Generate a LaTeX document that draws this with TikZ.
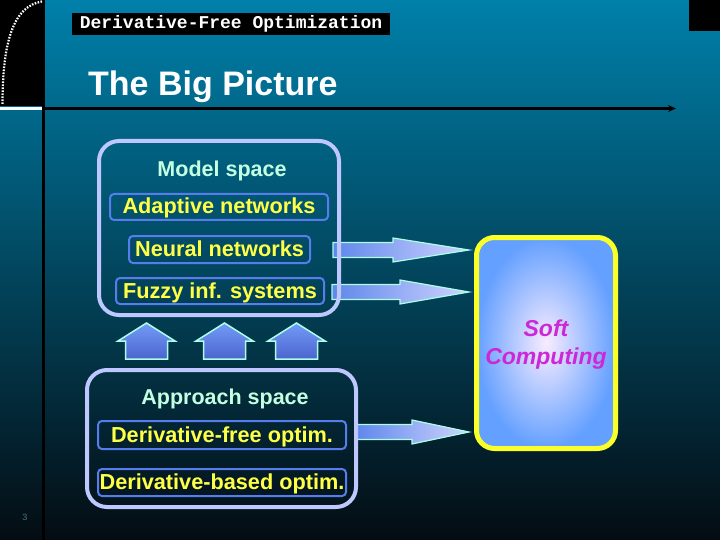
\documentclass[tikz,border=0pt]{standalone}
\usepackage{fontspec}
\setmainfont{Liberation Sans}
\newfontfamily\monof{Liberation Mono}
\usetikzlibrary{calc,arrows.meta}
\definecolor{bgtop}{RGB}{0,128,170}
\definecolor{bgmid}{RGB}{0,72,97}
\definecolor{bgbot}{RGB}{4,12,18}
\definecolor{lav}{RGB}{190,200,255}
\definecolor{innerblue}{RGB}{85,125,235}
\definecolor{ylw}{RGB}{255,255,70}
\definecolor{mint}{RGB}{195,255,225}
\definecolor{aqua}{RGB}{170,255,232}
\definecolor{arrL}{RGB}{95,135,235}
\definecolor{arrR}{RGB}{208,212,255}
\definecolor{houseT}{RGB}{115,155,248}
\definecolor{houseB}{RGB}{75,100,205}
\definecolor{softin}{RGB}{248,236,255}
\definecolor{softout}{RGB}{100,160,255}
\definecolor{softy}{RGB}{250,255,40}
\definecolor{magen}{RGB}{205,40,215}
\definecolor{pagenum}{RGB}{70,115,135}
\pgfdeclarelayer{back}
\pgfdeclarelayer{arr}
\pgfsetlayers{back,arr,main}
\newcommand\fatarrow[3]{%
  \path[fatarr] let \p1=(#1), \p2=(#2) in
    (\x1,\y1+7.5pt) -- (\x2-#3pt,\y1+7.5pt) -- (\x2-#3pt,\y1+12pt) -- (\x2,\y1)
    -- (\x2-#3pt,\y1-12pt) -- (\x2-#3pt,\y1-7.5pt) -- (\x1,\y1-7.5pt) -- cycle;}
\begin{document}
\begin{tikzpicture}[x=1pt,y=-1pt,
  bigbox/.style={draw=lav, line width=4pt, rounded corners=20pt, inner sep=0pt},
  itembox/.style={draw=innerblue, line width=2pt, rounded corners=4pt, inner sep=0pt,
    text height=15pt, text depth=1pt,
    text=ylw, font=\bfseries\fontsize{21.7}{24}\selectfont},
  headtext/.style={text=mint, inner sep=0pt, text height=15pt, text depth=1pt,
    font=\bfseries\fontsize{21.5}{24}\selectfont},
  fatarr/.style={draw=aqua, line width=1.2pt, left color=arrL, right color=arrR},
  housestyle/.style={draw=aqua, line width=1.5pt, top color=houseT, bottom color=houseB},
]
\useasboundingbox (0,0) rectangle (720,540);
\begin{pgfonlayer}{back}
\shade[top color=bgtop, middle color=bgmid, bottom color=bgbot] (0,0) rectangle (720,540);
\fill[black] (0,0) rectangle (42,106);
\fill[black] (689,0) rectangle (720,31);
\draw[white, line width=2.5pt] (0,108.5) -- (42,108.5);
\draw[black, line width=3pt] (43.5,0) -- (43.5,540);
\draw[black, line width=2.5pt, -{Stealth[length=8pt,width=7pt]}] (45,108.5) -- (676,108.5);
\draw[white, line width=2.2pt, dash pattern=on 1.6pt off 1.4pt] (2.5,104) .. controls (2.5,40) and (14,6) .. (42,1.5);
\end{pgfonlayer}

% header
\node[fill=black, minimum width=318pt, minimum height=22pt, inner sep=0pt, text=white,
  font=\monof\bfseries\fontsize{18}{20}\selectfont] (hdr) at (231,24) {Derivative-Free Optimization};
\node[anchor=base west, inner sep=0pt, text=white, font=\bfseries\fontsize{34}{36}\selectfont] (title) at (88,96) {The Big Picture};

% model space
\node[bigbox, minimum width=240pt, minimum height=174pt] (model) at (219,228) {};
\node[headtext] (mtxt) at (222,170) {Model space};
\node[itembox, minimum width=218pt, minimum height=26pt] (adapt) at (219,207) {Adaptive networks};
\node[itembox, minimum width=181pt, minimum height=27pt] (neural) at (219.5,249.5) {Neural networks};
\node[itembox, minimum width=208pt, minimum height=26pt] (fuzzy) at (220,291) {Fuzzy inf. systems};

% approach space
\node[bigbox, minimum width=269pt, minimum height=137pt] (appr) at (221.5,438.5) {};
\node[headtext] (atxt) at (225,397) {Approach space};
\node[itembox, minimum width=248pt, minimum height=28pt] (dfree) at (222,435) {Derivative-free optim.};
\node[itembox, minimum width=248pt, minimum height=27pt] (dbased) at (222,482.5) {Derivative-based optim.};

% soft computing
\node[draw=softy, line width=5pt, rounded corners=18pt, inner sep=0pt,
  minimum width=139pt, minimum height=211pt, shading=radial, inner color=softin, outer color=softout] (soft) at (546,343) {};
\node[text=magen, align=center, inner sep=0pt, font=\bfseries\itshape\fontsize{23}{28}\selectfont] (softtxt) at (546,345) {Soft\\Computing};

% arrows
\coordinate (a1s) at ($(neural.east)+(22,0.5)$);
\coordinate (a2s) at ($(fuzzy.east)+(7,1)$);
\coordinate (a3s) at ($(dfree.east)+(9,-3)$);
\coordinate (a1t) at ($(soft.west |- a1s)+(-5,0)$);
\coordinate (a2t) at ($(soft.west |- a2s)+(-5,0)$);
\coordinate (a3t) at ($(soft.west |- a3s)+(-5,0)$);
\begin{pgfonlayer}{arr}
\fatarrow{a1s}{a1t}{76}
\fatarrow{a2s}{a2t}{69}
\fatarrow{a3s}{a3t}{57}
\end{pgfonlayer}

% houses (up arrows from approach space to model space)
\foreach \cx/\hw in {146.5/28.5, 224.5/28.5, 296.5/28.5}{
  \path[housestyle] (\cx,323) -- (\cx+\hw,341) -- (\cx+21,341) -- (\cx+21,359)
    -- (\cx-21,359) -- (\cx-21,341) -- (\cx-\hw,341) -- cycle;
}

\node[text=pagenum, inner sep=0pt, font=\fontsize{9}{10}\selectfont] (pg) at (25,517) {3};
\end{tikzpicture}
\end{document}
